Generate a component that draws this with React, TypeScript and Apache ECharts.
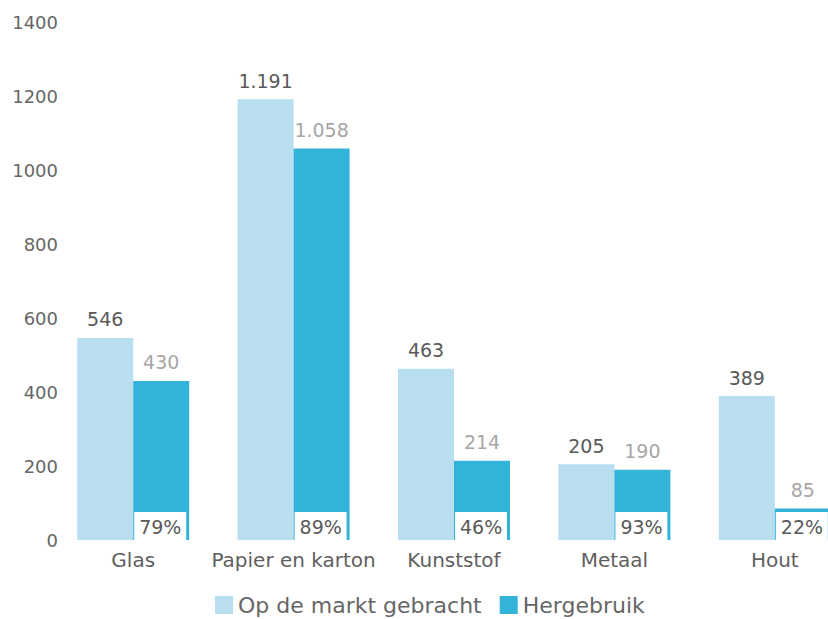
import React, { useEffect, useRef } from "react";
import * as echarts from "echarts";

const categories = ["Glas", "Papier en karton", "Kunststof", "Metaal", "Hout"];
const marketValues = [546, 1191, 463, 205, 389];
const reusedValues = [430, 1058, 214, 190, 85];
const reusePercents = [79, 89, 46, 93, 22];
const seriesNames = ["Op de markt gebracht", "Hergebruik"];

const FONT = "DejaVu Sans";
const fmt = (v: number) => String(v).replace(/\B(?=(\d{3})+(?!\d))/g, ".");

export default function App() {
  const ref = useRef<HTMLDivElement>(null);
  useEffect(() => {
    if (!ref.current) return;
    const chart = echarts.init(ref.current, undefined, { renderer: "svg" });
    chart.setOption({
      animation: false,
      textStyle: { fontFamily: FONT },
      grid: { left: 53, top: 22, width: 802, height: 518, containLabel: false },
      legend: {
        data: seriesNames,
        top: 589,
        left: 210,
        itemWidth: 18,
        itemHeight: 18,
        itemGap: 18,
        icon: "rect",
        textStyle: { fontSize: 22, color: "#666666", fontFamily: FONT },
      },
      xAxis: {
        type: "category",
        data: categories,
        axisLine: { show: false },
        axisTick: { show: false },
        axisLabel: { fontSize: 20, color: "#5f5f5f", margin: 10, interval: 0, fontFamily: FONT },
      },
      yAxis: {
        type: "value",
        min: 0,
        max: 1400,
        interval: 200,
        splitLine: { show: false },
        axisLine: { show: false },
        axisTick: { show: false },
        axisLabel: {
          fontSize: 18,
          color: "#666666",
          margin: -5,
          fontFamily: FONT,
          formatter: (v: number) => String(v),
        },
      },
      series: [
        {
          name: seriesNames[0],
          type: "bar",
          data: marketValues,
          barWidth: 56,
          barGap: "0%",
          itemStyle: { color: "#b8def0" },
          label: {
            show: true,
            position: "top",
            distance: 9,
            fontSize: 19,
            color: "#595959",
            fontFamily: FONT,
            formatter: (p: any) => fmt(p.value),
          },
        },
        {
          name: seriesNames[1],
          type: "bar",
          data: reusedValues,
          barWidth: 56,
          barGap: "0%",
          itemStyle: { color: "#33b3da" },
          label: {
            show: true,
            position: "top",
            distance: 9,
            fontSize: 19,
            color: "#a6a6a6",
            fontFamily: FONT,
            formatter: (p: any) => fmt(p.value),
          },
        },
        {
          type: "custom",
          data: reusePercents.map((v, i) => [i, v]),
          z: 10,
          renderItem: (params: any, api: any) => {
            const idx = api.value(0);
            const pct = api.value(1);
            const p = api.coord([idx, 0]);
            const x = p[0] + 1;
            const y = p[1] - 28;
            return {
              type: "group",
              children: [
                { type: "rect", shape: { x, y, width: 52, height: 28 }, style: { fill: "#ffffff" } },
                {
                  type: "text",
                  style: {
                    text: pct + "%",
                    x: x + 5,
                    y: y + 15,
                    verticalAlign: "middle",
                    fill: "#595959",
                    font: `19px "${FONT}"`,
                  },
                },
              ],
            };
          },
        },
      ],
    });
    return () => chart.dispose();
  }, []);
  return (
    <div style={{ position: "absolute", left: 0, top: 0, width: 828, height: 619, overflow: "hidden" }}>
      <div ref={ref} style={{ width: 880, height: 619 }} />
    </div>
  );
}
